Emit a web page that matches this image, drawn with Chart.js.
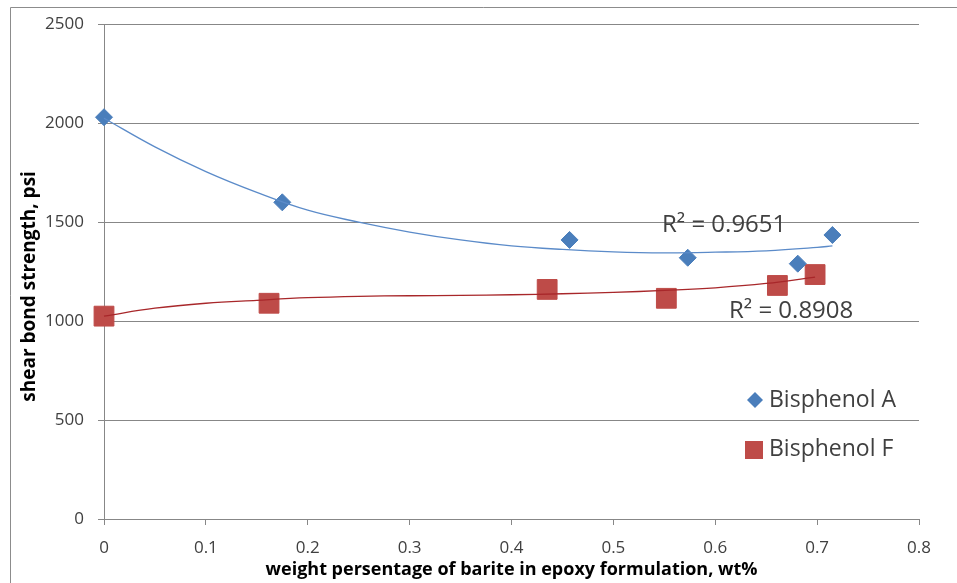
<!DOCTYPE html>
<html>
<head>
<meta charset="utf-8">
<script src="https://cdn.jsdelivr.net/npm/chart.js@4.4.1/dist/chart.umd.min.js"></script>
<style>
  html, body { margin: 0; padding: 0; background: #fff; }
  #wrap { width: 957px; height: 583px; position: relative; }
</style>
</head>
<body>
<div id="wrap"><canvas id="chart" width="957" height="583"></canvas></div>
<script>
// measured points
const seriesNames = ['Bisphenol A', 'Bisphenol F'];
const bisAX = [0, 0.175, 0.457, 0.573, 0.681, 0.715];
const bisAY = [2030, 1600, 1410, 1320, 1290, 1435];
const bisFX = [0, 0.162, 0.435, 0.552, 0.661, 0.698];
const bisFY = [1025, 1090, 1160, 1115, 1180, 1235];

// trendlines
const trendAX = [0, 0.05, 0.1, 0.15, 0.2, 0.25, 0.3, 0.35, 0.4, 0.45, 0.5, 0.55, 0.6, 0.65, 0.7, 0.715];
const trendAY = [2025, 1880, 1755, 1650, 1560, 1500, 1450, 1410, 1380, 1362, 1350, 1345, 1348, 1355, 1372, 1380];
const trendFX = [0, 0.05, 0.1, 0.15, 0.2, 0.25, 0.3, 0.35, 0.4, 0.45, 0.5, 0.55, 0.6, 0.65, 0.698];
const trendFY = [1025, 1065, 1090, 1105, 1118, 1125, 1128, 1130, 1133, 1138, 1145, 1155, 1168, 1190, 1222];

const r2Labels = ['R\u00B2 = 0.9651', 'R\u00B2 = 0.8908'];

const blue = '#4A7EBB';
const red  = '#BE4B48';
const gridCol = '#878787';
const FONT = '"Open Sans", "DejaVu Sans", sans-serif';

function pts(xs, ys) { return xs.map((x, i) => ({ x: x, y: ys[i] })); }

const extras = {
    id: 'extras',
    beforeDraw(chart) {
        const ctx = chart.ctx;
        ctx.save();
        ctx.strokeStyle = '#8c8c8c';
        ctx.lineWidth = 1;
        ctx.beginPath();
        ctx.moveTo(10.5, 600);
        ctx.lineTo(10.5, 7.5);
        ctx.lineTo(957, 7.5);
        ctx.stroke();
        ctx.restore();
    },
    afterDatasetsDraw(chart) {
        const ctx = chart.ctx;
        ctx.save();
        ctx.fillStyle = '#404040';
        ctx.font = '24px ' + FONT;
        ctx.textBaseline = 'alphabetic';
        ctx.textAlign = 'left';
        ctx.fillText(r2Labels[0], 662, 232);
        ctx.fillText(r2Labels[1], 729, 318);

        // legend
        ctx.font = '23px ' + FONT;
        ctx.fillStyle = '#404040';
        ctx.fillText(seriesNames[0], 769, 407);
        ctx.fillText(seriesNames[1], 769, 456);
        ctx.fillStyle = blue;
        ctx.beginPath();
        ctx.moveTo(755, 392); ctx.lineTo(763, 400); ctx.lineTo(755, 408); ctx.lineTo(747, 400);
        ctx.closePath();
        ctx.fill();
        ctx.fillStyle = red;
        ctx.fillRect(745, 441, 18, 18);
        ctx.restore();
    }
};

new Chart(document.getElementById('chart').getContext('2d'), {
    type: 'scatter',
    data: {
        datasets: [
            {
                label: 'trend A', data: pts(trendAX, trendAY), showLine: true, clip: false,
                borderColor: '#5B8BC9', borderWidth: 1.3, pointRadius: 0, tension: 0.4, fill: false,
            },
            {
                label: 'trend F', data: pts(trendFX, trendFY), showLine: true, clip: false,
                borderColor: '#A8272A', borderWidth: 1.3, pointRadius: 0, tension: 0.4, fill: false,
            },
            {
                label: seriesNames[0], data: pts(bisAX, bisAY), clip: false,
                pointStyle: 'rectRot', pointRadius: 8.5, backgroundColor: blue, borderColor: blue, borderWidth: 1,
            },
            {
                label: seriesNames[1], data: pts(bisFX, bisFY), clip: false,
                pointStyle: 'rect', pointRadius: 14, backgroundColor: red, borderColor: red, borderWidth: 1,
            },
        ]
    },
    options: {
        responsive: false, animation: false,
        layout: { padding: { left: 0, right: 38, top: 20, bottom: 0 } },
        plugins: { legend: { display: false }, tooltip: { enabled: false } },
        scales: {
            x: {
                type: 'linear', min: 0, max: 0.8,
                afterFit(s) { s.height = 64; },
                grid: { drawOnChartArea: false, drawTicks: true, tickLength: 6, color: gridCol },
                border: { color: gridCol, width: 1 },
                ticks: { stepSize: 0.1, padding: 13, color: '#404040', font: { family: FONT, size: 17 },
                         callback: v => (Math.round(v * 10) / 10).toString() },
                title: { display: true, text: 'weight persentage of barite in epoxy formulation, wt%',
                         color: '#000', font: { family: FONT, size: 18, weight: 'bold' },
                         padding: { top: 0, bottom: 2 } },
            },
            y: {
                min: 0, max: 2500,
                afterFit(s) { s.width = 104; },
                grid: { drawTicks: true, tickLength: 6, color: gridCol },
                border: { color: gridCol, width: 1 },
                ticks: { stepSize: 500, padding: 14, color: '#404040', font: { family: FONT, size: 17 },
                         callback: v => String(v) },
                title: { display: true, text: 'shear bond strength, psi      ',
                         color: '#000', font: { family: FONT, size: 19, weight: 'bold' },
                         padding: { top: 18, bottom: 0 } },
            }
        }
    },
    plugins: [extras]
});
</script>
</body>
</html>
